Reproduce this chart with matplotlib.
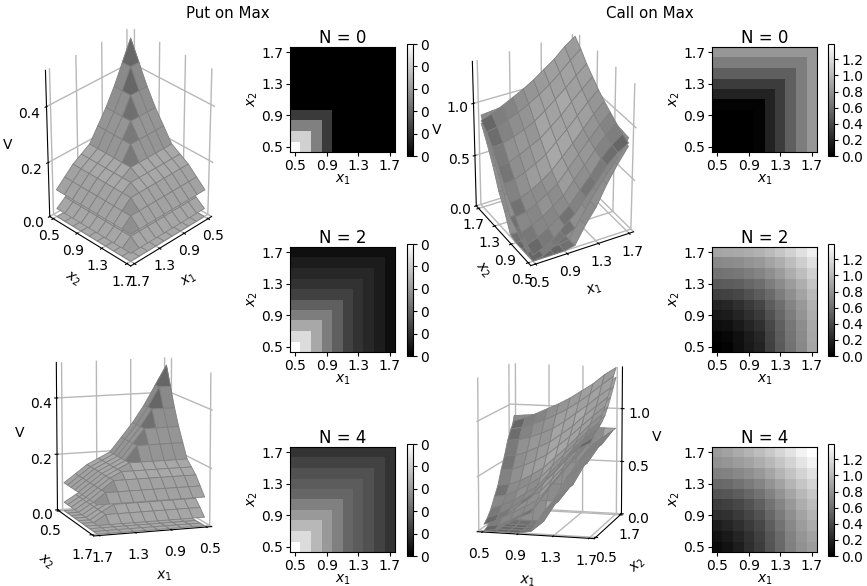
import numpy as np
import matplotlib
matplotlib.use('Agg')
import matplotlib.pyplot as plt

W, H = 867, 586

tick_labels = ['0.5', '0.9', '1.3', '1.7']
tick_vals = [0.5, 0.9, 1.3, 1.7]
x_grid = np.array([0.5, 0.633, 0.767, 0.9, 1.033, 1.167, 1.3, 1.433, 1.567, 1.7])

# rows are x2, columns are x1
put_n0 = np.array([
    [0.49, 0.41, 0.25, 0.115, 0, 0, 0, 0, 0, 0],
    [0.41, 0.41, 0.25, 0.115, 0, 0, 0, 0, 0, 0],
    [0.25, 0.25, 0.25, 0.115, 0, 0, 0, 0, 0, 0],
    [0.115, 0.115, 0.115, 0.115, 0, 0, 0, 0, 0, 0],
    [0, 0, 0, 0, 0, 0, 0, 0, 0, 0],
    [0, 0, 0, 0, 0, 0, 0, 0, 0, 0],
    [0, 0, 0, 0, 0, 0, 0, 0, 0, 0],
    [0, 0, 0, 0, 0, 0, 0, 0, 0, 0],
    [0, 0, 0, 0, 0, 0, 0, 0, 0, 0],
    [0, 0, 0, 0, 0, 0, 0, 0, 0, 0],
])
put_n2 = np.array([
    [0.50, 0.43, 0.33, 0.245, 0.186, 0.127, 0.098, 0.078, 0.055, 0.03],
    [0.43, 0.43, 0.33, 0.245, 0.186, 0.127, 0.098, 0.078, 0.055, 0.03],
    [0.33, 0.33, 0.33, 0.245, 0.186, 0.127, 0.098, 0.078, 0.055, 0.03],
    [0.245, 0.245, 0.245, 0.245, 0.186, 0.127, 0.098, 0.078, 0.055, 0.03],
    [0.186, 0.186, 0.186, 0.186, 0.186, 0.127, 0.098, 0.078, 0.055, 0.03],
    [0.127, 0.127, 0.127, 0.127, 0.127, 0.127, 0.098, 0.078, 0.055, 0.03],
    [0.098, 0.098, 0.098, 0.098, 0.098, 0.098, 0.098, 0.078, 0.055, 0.03],
    [0.078, 0.078, 0.078, 0.078, 0.078, 0.078, 0.078, 0.078, 0.055, 0.03],
    [0.055, 0.055, 0.055, 0.055, 0.055, 0.055, 0.055, 0.055, 0.055, 0.03],
    [0.03, 0.03, 0.03, 0.03, 0.03, 0.03, 0.03, 0.03, 0.03, 0.03],
])
put_n4 = np.array([
    [0.50, 0.43, 0.36, 0.30, 0.25, 0.20, 0.18, 0.16, 0.13, 0.10],
    [0.43, 0.43, 0.36, 0.30, 0.25, 0.20, 0.18, 0.16, 0.13, 0.10],
    [0.36, 0.36, 0.36, 0.30, 0.25, 0.20, 0.18, 0.16, 0.13, 0.10],
    [0.30, 0.30, 0.30, 0.30, 0.25, 0.20, 0.18, 0.16, 0.13, 0.10],
    [0.25, 0.25, 0.25, 0.25, 0.25, 0.20, 0.18, 0.16, 0.13, 0.10],
    [0.20, 0.20, 0.20, 0.20, 0.20, 0.20, 0.18, 0.16, 0.13, 0.10],
    [0.18, 0.18, 0.18, 0.18, 0.18, 0.18, 0.18, 0.16, 0.13, 0.10],
    [0.16, 0.16, 0.16, 0.16, 0.16, 0.16, 0.16, 0.16, 0.13, 0.10],
    [0.13, 0.13, 0.13, 0.13, 0.13, 0.13, 0.13, 0.13, 0.13, 0.10],
    [0.10, 0.10, 0.10, 0.10, 0.10, 0.10, 0.10, 0.10, 0.10, 0.10],
])
call_n0 = np.array([
    [0, 0, 0, 0, 0.02, 0.19, 0.33, 0.52, 0.68, 0.82],
    [0, 0, 0, 0, 0.02, 0.19, 0.33, 0.52, 0.68, 0.82],
    [0, 0, 0, 0, 0.02, 0.19, 0.33, 0.52, 0.68, 0.82],
    [0, 0, 0, 0, 0.02, 0.19, 0.33, 0.52, 0.68, 0.82],
    [0.02, 0.02, 0.02, 0.02, 0.02, 0.19, 0.33, 0.52, 0.68, 0.82],
    [0.19, 0.19, 0.19, 0.19, 0.19, 0.19, 0.33, 0.52, 0.68, 0.82],
    [0.33, 0.33, 0.33, 0.33, 0.33, 0.33, 0.33, 0.52, 0.68, 0.82],
    [0.52, 0.52, 0.52, 0.52, 0.52, 0.52, 0.52, 0.52, 0.68, 0.82],
    [0.68, 0.68, 0.68, 0.68, 0.68, 0.68, 0.68, 0.68, 0.68, 0.82],
    [0.82, 0.82, 0.82, 0.82, 0.82, 0.82, 0.82, 0.82, 0.82, 0.82],
])
call_n2 = np.array([
    [0.00, 0.02, 0.08, 0.14, 0.19, 0.35, 0.49, 0.62, 0.74, 0.90],
    [0.02, 0.04, 0.09, 0.15, 0.21, 0.36, 0.50, 0.63, 0.75, 0.91],
    [0.08, 0.09, 0.14, 0.20, 0.26, 0.39, 0.52, 0.65, 0.77, 0.92],
    [0.14, 0.15, 0.20, 0.26, 0.32, 0.44, 0.56, 0.68, 0.80, 0.94],
    [0.19, 0.21, 0.26, 0.32, 0.38, 0.50, 0.60, 0.72, 0.83, 0.97],
    [0.35, 0.36, 0.39, 0.44, 0.50, 0.58, 0.68, 0.78, 0.89, 1.01],
    [0.49, 0.50, 0.52, 0.56, 0.60, 0.68, 0.76, 0.85, 0.95, 1.07],
    [0.62, 0.63, 0.65, 0.68, 0.72, 0.78, 0.85, 0.94, 1.03, 1.14],
    [0.74, 0.75, 0.77, 0.80, 0.83, 0.89, 0.95, 1.03, 1.12, 1.22],
    [0.90, 0.91, 0.92, 0.94, 0.97, 1.01, 1.07, 1.14, 1.22, 1.30],
])
call_n4 = np.array([
    [0.06, 0.10, 0.16, 0.25, 0.33, 0.46, 0.57, 0.70, 0.79, 0.85],
    [0.10, 0.14, 0.20, 0.27, 0.35, 0.47, 0.58, 0.71, 0.81, 0.88],
    [0.16, 0.20, 0.25, 0.32, 0.39, 0.51, 0.62, 0.74, 0.85, 0.93],
    [0.25, 0.27, 0.32, 0.38, 0.45, 0.56, 0.67, 0.78, 0.89, 0.98],
    [0.33, 0.35, 0.39, 0.45, 0.52, 0.62, 0.72, 0.83, 0.94, 1.03],
    [0.46, 0.47, 0.51, 0.56, 0.62, 0.71, 0.80, 0.90, 1.00, 1.09],
    [0.57, 0.58, 0.62, 0.67, 0.72, 0.80, 0.88, 0.98, 1.07, 1.16],
    [0.70, 0.71, 0.74, 0.78, 0.83, 0.90, 0.98, 1.06, 1.15, 1.23],
    [0.79, 0.81, 0.85, 0.89, 0.94, 1.00, 1.07, 1.15, 1.24, 1.32],
    [0.85, 0.88, 0.93, 0.98, 1.03, 1.09, 1.16, 1.23, 1.32, 1.39],
])

put_vmax = 0.5
call_vmax = 1.39
light = np.array([-0.667, -0.667, 0.333])


def px_rect(x0, y0, x1, y1):
    return [x0 / W, 1 - y1 / H, (x1 - x0) / W, (y1 - y0) / H]


def heatmap(rect, cb_rect, Z, title, vmax, cb_ticks, cb_fmt):
    ax = fig.add_axes(px_rect(*rect))
    im = ax.pcolormesh(x_grid, x_grid, Z, cmap='gray', vmin=0, vmax=vmax, shading='nearest')
    ax.set_xticks(tick_vals)
    ax.set_xticklabels(tick_labels)
    ax.set_yticks(tick_vals)
    ax.set_yticklabels(tick_labels)
    ax.tick_params(labelsize=10, pad=2, length=3)
    ax.set_xlabel(r'$x_1$', fontsize=10, labelpad=-0.5)
    ax.set_ylabel(r'$x_2$', fontsize=10, labelpad=1)
    ax.set_title(title, fontsize=12, pad=2)
    cax = fig.add_axes(px_rect(*cb_rect))
    cb = fig.colorbar(im, cax=cax, ticks=cb_ticks, format=cb_fmt)
    cb.ax.tick_params(labelsize=10, pad=2, length=3)
    return ax


def face_shades(Z):
    # per-surface min/max shading, the way older mplot3d did it
    dz1 = (Z[:-1, 1:] - Z[:-1, :-1]) / np.diff(x_grid)[None, :]
    dz2 = (Z[1:, :-1] - Z[:-1, :-1]) / np.diff(x_grid)[:, None]
    norm = np.sqrt(dz1**2 + dz2**2 + 1)
    s = (-dz1 * light[0] - dz2 * light[1] + light[2]) / norm
    k = (s - s.min()) / (s.max() - s.min())
    colors = np.ones(Z.shape + (4,))
    for c in range(3):
        colors[:-1, :-1, c] = 0.40 + 0.26 * k
    return colors


def surf3d(rect, surfaces, elev, azim, aspect, zlim, zticks, zticklabels, yticks, pads):
    ax = fig.add_axes(px_rect(*rect), projection='3d', computed_zorder=False)
    ax.set_proj_type('persp', focal_length=1.5)
    for Z in surfaces:
        ax.plot_surface(X1, X2, Z, facecolors=face_shades(Z), shade=False,
                        edgecolor='#808080', linewidth=0.6)
    ax.view_init(elev=elev, azim=azim)
    ax.set_box_aspect(aspect)
    ax.set_xlim(0.44, 1.76)
    ax.set_ylim(0.44, 1.76)
    ax.set_zlim(*zlim)
    ax.set_xticks(tick_vals)
    ax.set_xticklabels(tick_labels)
    ax.set_yticks(yticks)
    ax.set_yticklabels(['%.1f' % v for v in yticks])
    ax.set_zticks(zticks)
    ax.set_zticklabels(zticklabels)
    ax.tick_params(labelsize=10)
    ax.tick_params(axis='x', pad=pads[0])
    ax.tick_params(axis='y', pad=pads[0])
    ax.tick_params(axis='z', pad=pads[1])
    ax.set_xlabel(r'$x_1$', fontsize=10, labelpad=pads[2])
    ax.set_ylabel(r'$x_2$', fontsize=10, labelpad=pads[2])
    ax.set_zlabel('V', fontsize=10, labelpad=pads[3])
    for a in (ax.xaxis, ax.yaxis, ax.zaxis):
        a.set_pane_color((1, 1, 1, 0))
        a.pane.set_edgecolor((1, 1, 1, 0))
        a._axinfo['grid']['color'] = (0.72, 0.72, 0.72, 1)
        a._axinfo['grid']['linewidth'] = 1.0
    ax.patch.set_alpha(0)
    return ax


X1, X2 = np.meshgrid(x_grid, x_grid)

fig = plt.figure(figsize=(W / 100, H / 100), dpi=100)

fig.text(228 / W, 1 - 13 / H, 'Put on Max', ha='center', va='center', fontsize=10.8)
fig.text(650 / W, 1 - 13 / H, 'Call on Max', ha='center', va='center', fontsize=10.8)

put_cb = [0, 0.1, 0.2, 0.3, 0.4, 0.5]
call_cb = [0, 0.2, 0.4, 0.6, 0.8, 1.0, 1.2]
rows = [47, 247, 447]
titles = ['N = 0', 'N = 2', 'N = 4']
put_all = [put_n0, put_n2, put_n4]
call_all = [call_n0, call_n2, call_n4]
for y0, t, zp, zc in zip(rows, titles, put_all, call_all):
    heatmap((290, y0, 395, y0 + 105), (407, y0 - 3, 413, y0 + 109), zp, t, put_vmax, put_cb, '%.0f')
    heatmap((712, y0, 817, y0 + 105), (828, y0 - 3, 834, y0 + 109), zc, t, call_vmax, call_cb, '%.1f')

surf3d((10, 31, 245, 266), put_all, 34, 45, (1, 1, 1.5), (0, 0.525), [0, 0.2, 0.4], ['0.0', '0.2', '0.4'], tick_vals, (-3, 1, -3, 0))
surf3d((18, 334.5, 242, 558.5), put_all, 10.5, 71, (1, 1, 1.25), (0, 0.525), [0, 0.2, 0.4], ['0.0', '0.2', '0.4'], [0.5, 1.7], (-1, 1, 0, 0))
surf3d((434, 34, 668, 268), call_all, 33, -119, (1, 1, 1.46), (0, 1.39), [0, 0.5, 1.0], ['0.0', '0.5', '1.0'], tick_vals, (-3, 1, -3, 0))
surf3d((438, 341, 658, 561), call_all, 10, -75, (1, 1, 1.285), (0, 1.39), [0, 0.5, 1.0], ['0.0', '0.5', '1.0'], [0.5, 1.7], (-1, 2, 0, 0))

fig.savefig('out.png', dpi=100)
